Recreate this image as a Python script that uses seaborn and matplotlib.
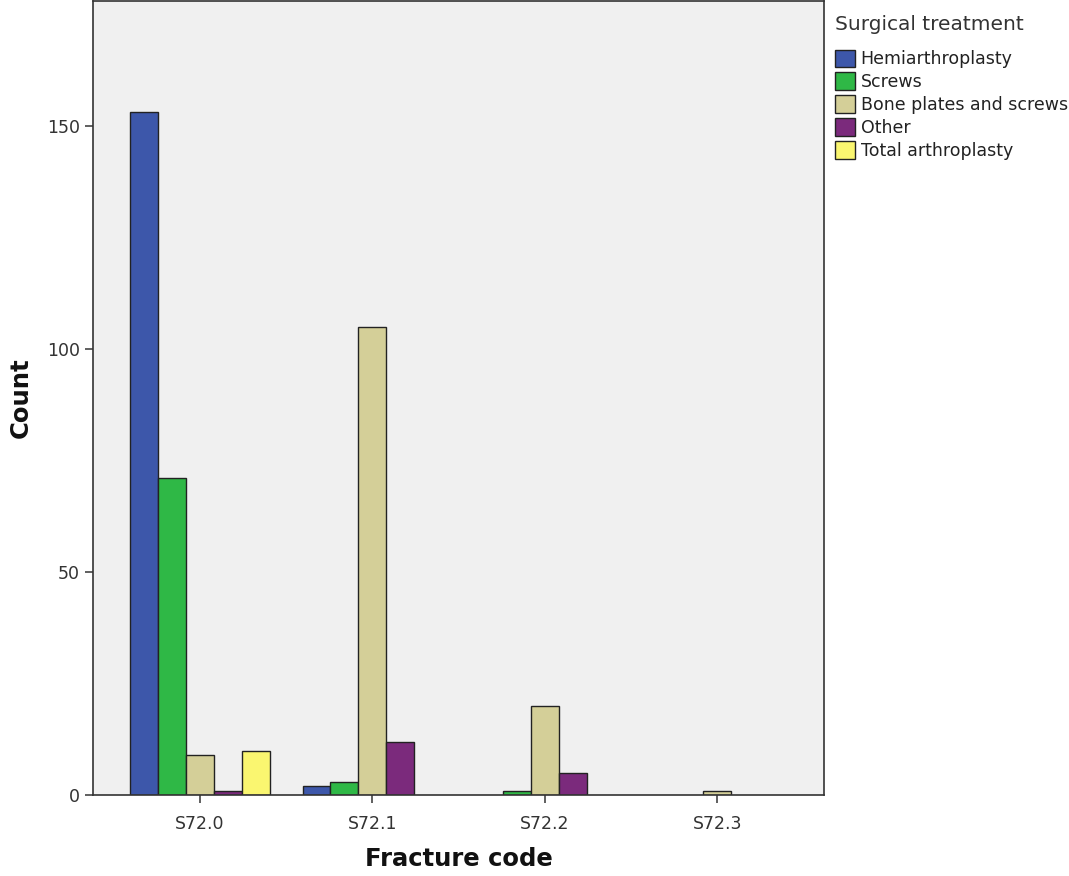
import matplotlib
matplotlib.use("Agg")
import matplotlib.pyplot as plt
import seaborn as sns
import pandas as pd

# data
fracture_codes = ["S72.0", "S72.1", "S72.2", "S72.3"]
treatments = [
    "Hemiarthroplasty",
    "Screws",
    "Bone plates and screws",
    "Other",
    "Total arthroplasty",
]
hemiarthroplasty = [153, 2, 0, 0]
screws = [71, 3, 1, 0]
bone_plates = [9, 105, 20, 1]
other = [1, 12, 5, 0]
total_arthroplasty = [10, 0, 0, 0]

colors = ["#3D57AA", "#2FB846", "#D4CF98", "#7B2A7C", "#FAF670"]

rows = []
for name, vals in zip(treatments, [hemiarthroplasty, screws, bone_plates, other, total_arthroplasty]):
    for code, v in zip(fracture_codes, vals):
        if v > 0:
            rows.append({"Fracture code": code, "Surgical treatment": name, "Count": v})
df = pd.DataFrame(rows)

sns.set_style("white")
plt.rcParams["font.family"] = ["DejaVu Sans"]

fig = plt.figure(figsize=(10.69, 8.76), dpi=100)
ax = fig.add_axes([0.087, 0.092, 0.684, 0.907])
ax.set_facecolor("#F0F0F0")

sns.barplot(
    data=df,
    x="Fracture code",
    y="Count",
    hue="Surgical treatment",
    order=fracture_codes,
    hue_order=treatments,
    palette=colors,
    saturation=1,
    width=0.81,
    edgecolor="#222222",
    linewidth=1.0,
    ax=ax,
)

ax.set_xlim(-0.62, 3.62)
ax.set_ylim(0, 178)
ax.set_yticks([0, 50, 100, 150])
ax.tick_params(axis="both", direction="out", length=6, width=1.2, color="#444444",
               labelsize=12.5, labelcolor="#333333", bottom=True, left=True)
ax.tick_params(axis="x", pad=8)
for s in ax.spines.values():
    s.set_color("#333333")
    s.set_linewidth(1.2)

ax.set_xlabel("Fracture code", fontsize=17.5, fontweight="bold", labelpad=10, color="#111111")
ax.set_ylabel("Count", fontsize=17.5, fontweight="bold", labelpad=10, color="#111111")

leg = ax.legend(
    title="Surgical treatment",
    loc="upper left",
    bbox_to_anchor=(1.0, 0.995),
    frameon=False,
    fontsize=12.5,
    title_fontsize=14.5,
    handlelength=1.2,
    handleheight=1.2,
    handletextpad=0.3,
    labelspacing=0.24,
    borderaxespad=0.2,
)
leg._legend_box.align = "left"
leg._legend_box.sep = 11
leg.get_title().set_color("#333333")
for t in leg.get_texts():
    t.set_color("#222222")
for h in leg.legend_handles:
    h.set_edgecolor("#222222")

fig.savefig("out.png", dpi=100)
